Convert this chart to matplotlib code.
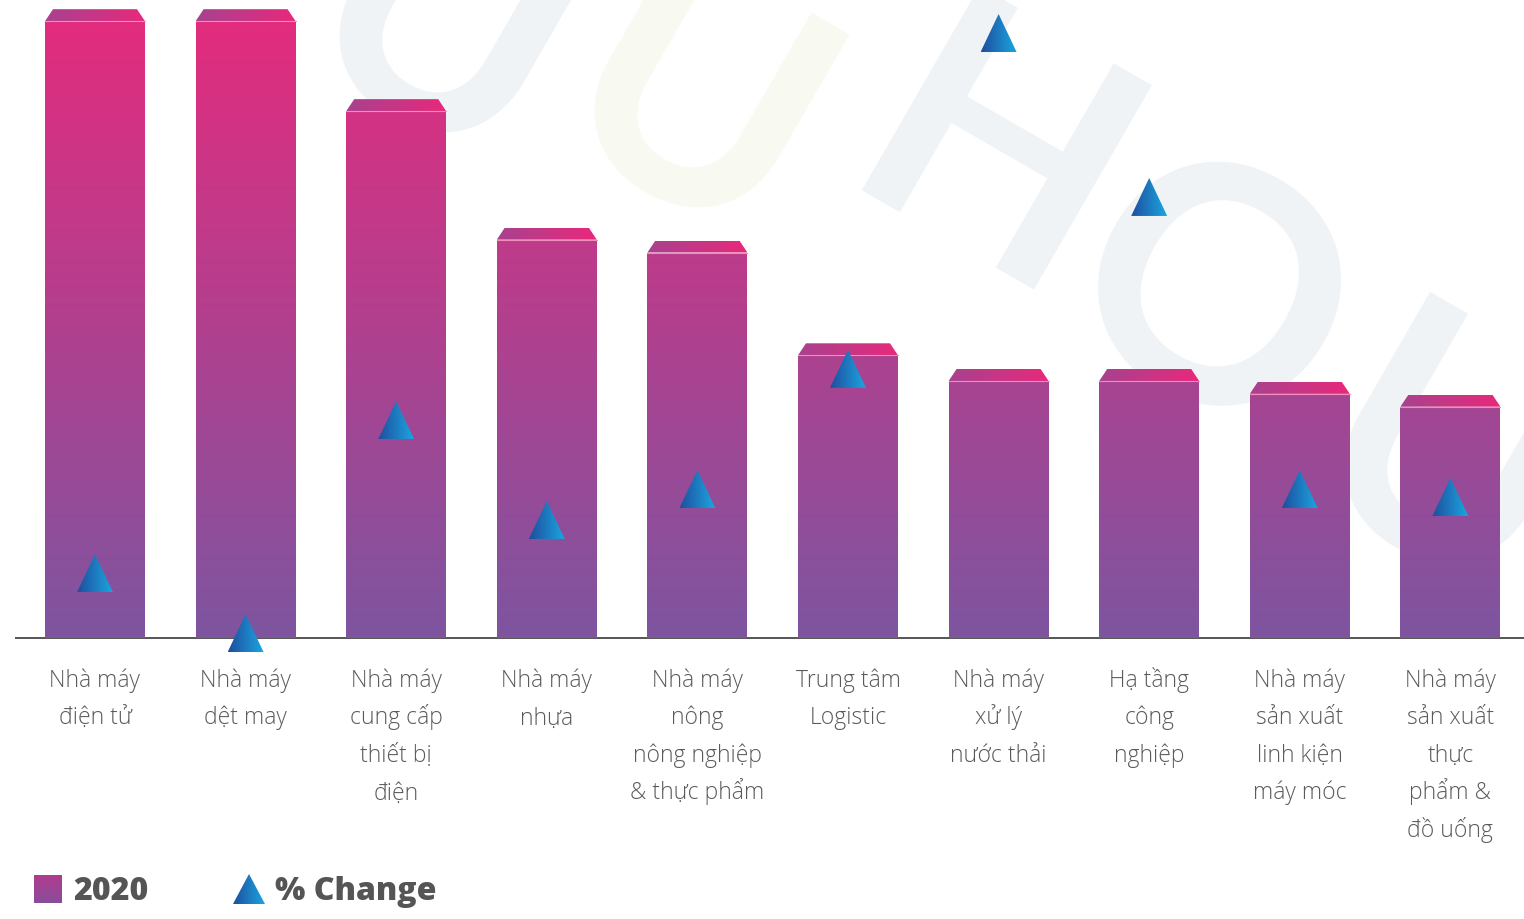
import matplotlib.pyplot as plt
import numpy as np
from matplotlib.colors import LinearSegmentedColormap
from matplotlib.path import Path
from matplotlib.patches import PathPatch, Polygon

categories = [
    "Nhà máy\nđiện tử",
    "Nhà máy\ndệt may",
    "Nhà máy\ncung cấp\nthiết bị\nđiện",
    "Nhà máy\nnhựa",
    "Nhà máy\nnông\nnông nghiệp\n& thực phẩm",
    "Trung tâm\nLogistic",
    "Nhà máy\nxử lý\nnước thải",
    "Hạ tầng\ncông\nnghiệp",
    "Nhà máy\nsản xuất\nlinh kiện\nmáy móc",
    "Nhà máy\nsản xuất\nthực\nphẩm &\nđồ uống",
]
values_2020 = [48, 48, 41, 31, 30, 22, 20, 20, 19, 18]
pct_change = [10.7, 0.8, 36, 19.5, 24.6, 44.5, 100, 72.9, 24.6, 23.3]

W, H = 1524, 920
BASE = 639          # baseline, pixels from top
BELOW = 45          # room under baseline for the low triangle
PX_X = 150.6        # pixels per category
PX_Y = 12.85        # pixels per unit of 2020 value
PX_P = 6.05         # pixels per % change unit

bar_cmap = LinearSegmentedColormap.from_list("bar", ["#7e55a0", "#e52b7d"])
cap_cmap = LinearSegmentedColormap.from_list("cap", ["#a8428f", "#e8297b"])
tri_cmap = LinearSegmentedColormap.from_list("tri", ["#1f4e9e", "#1ba5e0"])
hgrad = np.linspace(0, 1, 64).reshape(1, -1)
vgrad = np.linspace(0, 1, 256).reshape(-1, 1)

fig = plt.figure(figsize=(W / 100, H / 100), dpi=100)

# faint logo watermark behind the chart
wm = [("U", 435, 45, "#eff3f6"), ("U", 690, 120, "#f8f9f1"), ("H", 990, 172, "#eff3f6"),
      ("O", 1205, 310, "#eff3f6"), ("U", 1440, 475, "#eff3f6")]
for ch, px, py, col in wm:
    fig.text(px / W, 1 - py / H, ch, rotation=-30, fontsize=235, fontweight="bold",
             color=col, ha="center", va="center", zorder=-5, family="Lato")

ax = fig.add_axes([15 / W, (H - BASE - BELOW) / H, (W - 15) / W, (BASE + BELOW) / H])
ax.patch.set_visible(False)
x = np.arange(len(categories))
xlim = (-80 / PX_X, -80 / PX_X + (W - 15) / PX_X)
ylim = (-BELOW / PX_Y, BASE / PX_Y)

bars = ax.bar(x, values_2020, width=100 / PX_X, color="none", zorder=2)
clip = Path.make_compound_path(*[b.get_path().transformed(b.get_patch_transform()) for b in bars])
clip_patch = PathPatch(clip, transform=ax.transData, fc="none", ec="none")
ax.add_patch(clip_patch)
im = ax.imshow(vgrad, cmap=bar_cmap, origin="lower", aspect="auto", zorder=2,
               extent=(xlim[0], xlim[1], 0, (BASE - 10) / PX_Y))
im.set_clip_path(clip_patch)

# slanted caps on top of each bar
cap_h = 12 / PX_Y
inset = 8 / PX_X
for b in bars:
    x0, w, top = b.get_x(), b.get_width(), b.get_height()
    poly = Polygon([(x0, top), (x0 + w, top), (x0 + w - inset, top + cap_h), (x0 + inset, top + cap_h)],
                   closed=True, fc="none", ec="none")
    ax.add_patch(poly)
    ci = ax.imshow(hgrad, cmap=cap_cmap, aspect="auto", zorder=3, extent=(x0, x0 + w, top, top + cap_h))
    ci.set_clip_path(poly)
    ax.plot([x0, x0 + w], [top, top], color="#f08dbb", lw=0.8, zorder=4)

ax.axhline(0, color="#555555", lw=1.4, zorder=1)

# category labels, one line at a time so the spacing stays even
for i, lab in enumerate(categories):
    for k, line in enumerate(lab.split("\n")):
        ax.annotate(line, (i, 0), xytext=(0, -(48 + 37.5 * k) * 0.72), textcoords="offset points",
                    ha="center", va="baseline", fontsize=16.5, color="#5a5a5a",
                    family="Open Sans", fontweight="light")

ax.set_xlim(xlim)
ax.set_ylim(ylim)
ax.axis("off")

# % change triangles on a second scale
ax2 = ax.twinx()
ax2.patch.set_visible(False)
hw = 18 / PX_X
th = 38 / PX_P
for xi, p in zip(x, pct_change):
    tri = Polygon([(xi - hw, p - th / 2), (xi + hw, p - th / 2), (xi, p + th / 2)],
                  closed=True, fc="none", ec="none")
    ax2.add_patch(tri)
    ti = ax2.imshow(hgrad, cmap=tri_cmap, aspect="auto", zorder=5,
                    extent=(xi - hw, xi + hw, p - th / 2, p + th / 2))
    ti.set_clip_path(tri)
ax2.set_xlim(xlim)
ax2.set_ylim(-BELOW / PX_P, BASE / PX_P)
ax2.axis("off")

# legend
lax = fig.add_axes([0, 0, 1, 1])
lax.patch.set_visible(False)
lax.axis("off")
lax.imshow(vgrad, cmap=LinearSegmentedColormap.from_list("lg", ["#8a4c9c", "#b03c8d"]),
           origin="lower", aspect="auto", extent=(34, 62, 904, 876))
ltri = Polygon([(233, 905), (265, 905), (249, 875)], closed=True, fc="none", ec="none")
lax.add_patch(ltri)
li = lax.imshow(hgrad, cmap=tri_cmap, aspect="auto", extent=(233, 265, 905, 875))
li.set_clip_path(ltri)
lax.text(73, 892, "2020", fontsize=23, fontweight="heavy", family="Open Sans", color="#555555", va="center")
lax.text(275, 892, "% Change", fontsize=23, fontweight="heavy", family="Open Sans", color="#555555", va="center")
lax.set_xlim(0, W)
lax.set_ylim(H, 0)

fig.savefig("out.png", dpi=100)
